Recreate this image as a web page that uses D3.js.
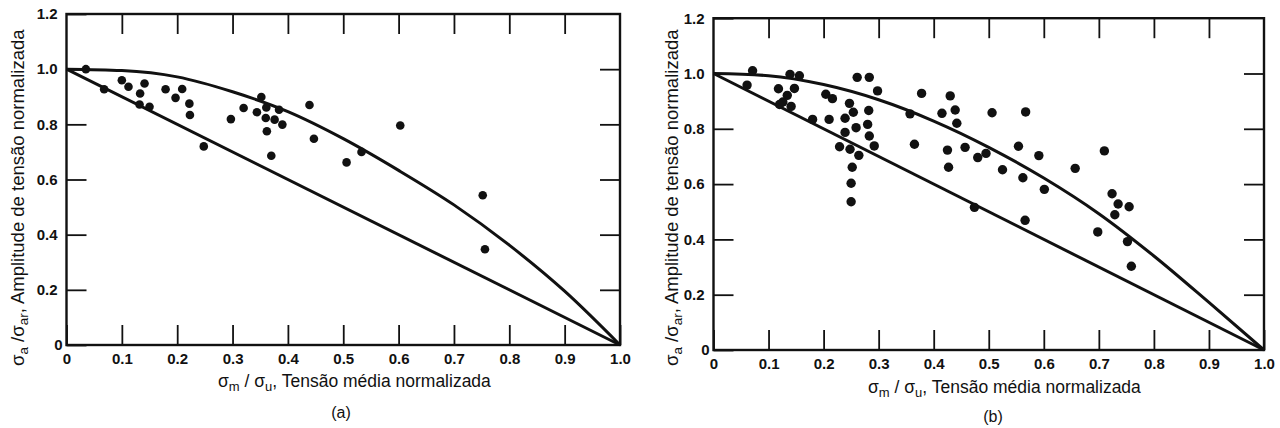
<!DOCTYPE html>
<html>
<head>
<meta charset="utf-8">
<script src="https://cdn.jsdelivr.net/npm/d3@7/dist/d3.min.js"></script>
<style>
  html, body { margin: 0; padding: 0; background: #fff; }
  svg { display: block; }
  text { font-family: "Liberation Sans", Arial, sans-serif; fill: #111; }
  .tick text { font-weight: bold; font-size: 15px; }
</style>
</head>
<body>
<svg id="chart" width="1280" height="428"></svg>
<script>
// Axis ticks shared by both panels
const xTicks = [0, 0.1, 0.2, 0.3, 0.4, 0.5, 0.6, 0.7, 0.8, 0.9, 1.0];
const yTicks = [0, 0.2, 0.4, 0.6, 0.8, 1.0, 1.2];

// Panel (a): test points
const aMean = [0.035, 0.068, 0.100, 0.112, 0.141, 0.133, 0.132, 0.150, 0.179, 0.197, 0.209,
               0.222, 0.223, 0.248, 0.297, 0.320, 0.352, 0.344, 0.361, 0.360, 0.362, 0.384,
               0.376, 0.390, 0.370, 0.439, 0.447, 0.533, 0.506, 0.603, 0.752, 0.756];
const aAmp  = [1.000, 0.927, 0.960, 0.936, 0.948, 0.912, 0.872, 0.864, 0.927, 0.896, 0.928,
               0.875, 0.834, 0.720, 0.819, 0.859, 0.899, 0.844, 0.861, 0.823, 0.775, 0.853,
               0.817, 0.799, 0.686, 0.870, 0.748, 0.700, 0.662, 0.796, 0.543, 0.347];

// Panel (a): upper (Gerber) curve
const aCurveX = [0, 0.1, 0.2, 0.3, 0.4, 0.5, 0.6, 0.7, 0.8, 0.9, 1.0];
const aCurveY = [1.0, 0.995, 0.972, 0.918, 0.846, 0.748, 0.633, 0.508, 0.362, 0.195, 0];

// Panel (b): test points
const bMean = [0.071, 0.061, 0.139, 0.156, 0.118, 0.147, 0.134, 0.126, 0.141, 0.120, 0.180,
               0.204, 0.216, 0.210, 0.261, 0.283, 0.298, 0.247, 0.254, 0.239, 0.282, 0.259,
               0.239, 0.280, 0.283, 0.229, 0.248, 0.264, 0.292, 0.252, 0.250, 0.250, 0.357,
               0.365, 0.378, 0.415, 0.430, 0.439, 0.442, 0.425, 0.427, 0.457, 0.506, 0.567,
               0.480, 0.495, 0.554, 0.525, 0.591, 0.562, 0.601, 0.657, 0.710, 0.474, 0.566,
               0.724, 0.735, 0.755, 0.729, 0.698, 0.752, 0.759];
const bAmp  = [1.010, 0.958, 0.997, 0.992, 0.945, 0.946, 0.921, 0.897, 0.881, 0.888, 0.834,
               0.925, 0.909, 0.834, 0.986, 0.986, 0.937, 0.892, 0.860, 0.838, 0.866, 0.804,
               0.787, 0.816, 0.774, 0.735, 0.726, 0.704, 0.738, 0.661, 0.603, 0.536, 0.854,
               0.744, 0.928, 0.856, 0.919, 0.868, 0.820, 0.723, 0.661, 0.733, 0.858, 0.861,
               0.696, 0.711, 0.737, 0.652, 0.703, 0.623, 0.581, 0.657, 0.720, 0.516, 0.469,
               0.565, 0.528, 0.518, 0.489, 0.427, 0.392, 0.303];

// Panel (b): upper curve
const bCurveX = [0, 0.1, 0.2, 0.3, 0.4, 0.5, 0.6, 0.7, 0.8, 0.9, 1.0];
const bCurveY = [1.0, 0.992, 0.960, 0.905, 0.828, 0.733, 0.622, 0.493, 0.340, 0.172, 0];

// Lower (Goodman) straight line, same for both panels
const lineX = [0, 1.0];
const lineY = [1.0, 0];

const svg = d3.select("#chart");
const fmt = d => d === 0 ? "0" : d3.format(".1f")(d);

function drawPanel(cfg) {
  const x = d3.scaleLinear().domain([0, 1.0]).range([cfg.left, cfg.right]);
  const y = d3.scaleLinear().domain([0, 1.2]).range([cfg.bottom, cfg.top]);
  const g = svg.append("g");

  // bottom axis with inward ticks and labels
  const bx = g.append("g").attr("transform", `translate(0,${cfg.bottom})`)
    .call(d3.axisBottom(x).tickValues(xTicks).tickFormat(fmt).tickSizeInner(-20).tickSizeOuter(0).tickPadding(8));
  // top axis, ticks only
  const tx = g.append("g").attr("transform", `translate(0,${cfg.top})`)
    .call(d3.axisTop(x).tickValues(xTicks.slice(1, -1)).tickFormat("").tickSizeInner(-20).tickSizeOuter(0));
  // left axis
  const ly = g.append("g").attr("transform", `translate(${cfg.left},0)`)
    .call(d3.axisLeft(y).tickValues(yTicks).tickFormat(fmt).tickSizeInner(-20).tickSizeOuter(0).tickPadding(9));
  // right axis, ticks only
  const ry = g.append("g").attr("transform", `translate(${cfg.right},0)`)
    .call(d3.axisRight(y).tickValues(yTicks.slice(1, -1)).tickFormat("").tickSizeInner(-20).tickSizeOuter(0));

  [bx, tx, ly, ry].forEach(a => {
    a.select(".domain").remove();
    a.selectAll(".tick line").attr("stroke", "#111").attr("stroke-width", 1.8);
    a.selectAll(".tick text").attr("fill", "#111");
  });
  ly.selectAll(".tick text").filter(d => d === 0).attr("dx", 5);

  // frame
  g.append("rect")
    .attr("x", cfg.left).attr("y", cfg.top)
    .attr("width", cfg.right - cfg.left).attr("height", cfg.bottom - cfg.top)
    .attr("fill", "none").attr("stroke", "#111").attr("stroke-width", 2.4);

  const line = d3.line().x(d => x(d[0])).y(d => y(d[1]));
  const curve = d3.line().x(d => x(d[0])).y(d => y(d[1])).curve(d3.curveMonotoneX);

  g.append("path")
    .datum(lineX.map((v, i) => [v, lineY[i]]))
    .attr("d", line).attr("fill", "none").attr("stroke", "#111").attr("stroke-width", 3);
  g.append("path")
    .datum(cfg.curveX.map((v, i) => [v, cfg.curveY[i]]))
    .attr("d", curve).attr("fill", "none").attr("stroke", "#111").attr("stroke-width", 3);

  g.append("g").selectAll("circle")
    .data(cfg.mean.map((v, i) => [v, cfg.amp[i]]))
    .join("circle")
    .attr("cx", d => x(d[0])).attr("cy", d => y(d[1]))
    .attr("r", cfg.r).attr("fill", "#111");

  // y title
  const yt = g.append("text")
    .attr("transform", `translate(${cfg.yTitleX},${cfg.yTitleY}) rotate(-90)`)
    .attr("font-size", 18.5);
  yt.append("tspan").text("σ");
  yt.append("tspan").attr("font-size", 13.5).attr("dy", 4).text("a");
  yt.append("tspan").attr("dy", -4).text(" /σ");
  yt.append("tspan").attr("font-size", 13.5).attr("dy", 4).text("ar");
  yt.append("tspan").attr("dy", -4).text(", Amplitude de tensão normalizada");

  // x title
  const xt = g.append("text")
    .attr("x", cfg.xTitleX).attr("y", cfg.xTitleY)
    .attr("font-size", 17.5);
  xt.append("tspan").text("σ");
  xt.append("tspan").attr("font-size", 13).attr("dy", 4).text("m");
  xt.append("tspan").attr("dy", -4).text(" / σ");
  xt.append("tspan").attr("font-size", 13).attr("dy", 4).text("u");
  xt.append("tspan").attr("dy", -4).text(", Tensão média normalizada");

  g.append("text")
    .attr("x", cfg.capX).attr("y", cfg.capY)
    .attr("text-anchor", "middle").attr("font-size", 16)
    .text(cfg.caption);
}

drawPanel({
  left: 66.5, right: 620, top: 14, bottom: 345,
  mean: aMean, amp: aAmp, curveX: aCurveX, curveY: aCurveY, r: 4.3,
  yTitleX: 24, yTitleY: 366, xTitleX: 218, xTitleY: 387,
  capX: 341, capY: 418, caption: "(a)"
});

drawPanel({
  left: 713.5, right: 1264, top: 18.2, bottom: 350,
  mean: bMean, amp: bAmp, curveX: bCurveX, curveY: bCurveY, r: 4.7,
  yTitleX: 678, yTitleY: 366, xTitleX: 868, xTitleY: 393,
  capX: 993, capY: 422, caption: "(b)"
});
</script>
</body>
</html>
